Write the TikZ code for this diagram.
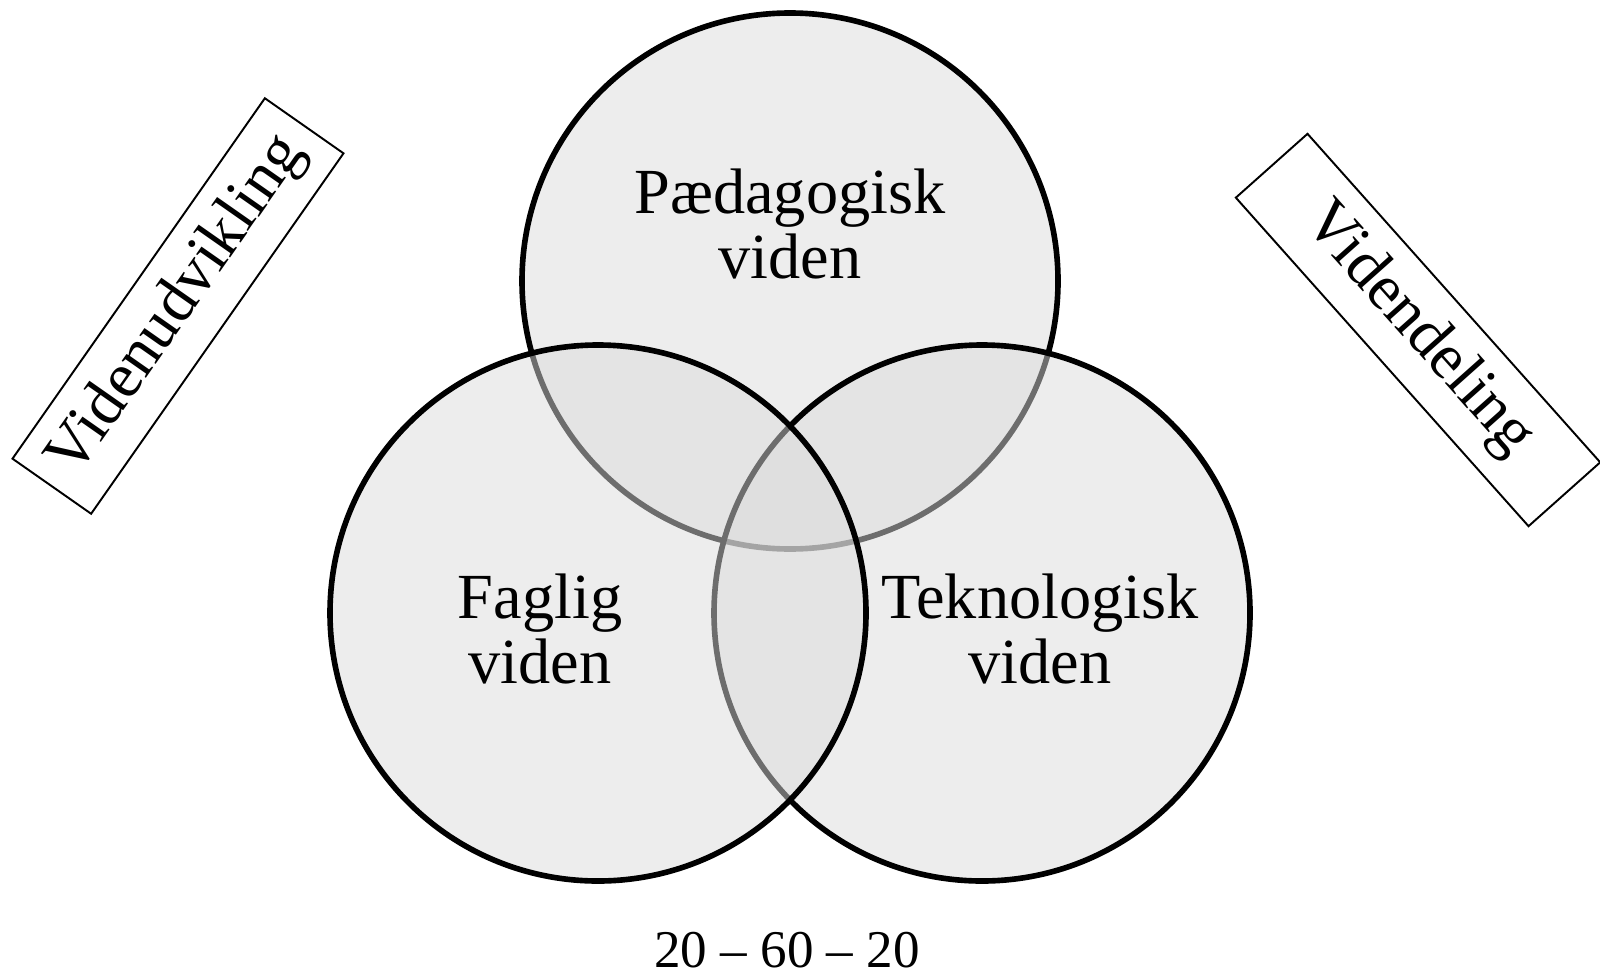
\documentclass[tikz,border=0pt]{standalone}
\usepackage{fontspec}
\setmainfont{Liberation Serif}
\tikzset{
  vidensirkel/.style={draw=black, line width=1.6pt, fill=black!14, fill opacity=0.5},
  etiket/.style={align=center, inner sep=0pt, font=\fontsize{18.3}{18.5}\selectfont},
  rammeboks/.style={draw=black, line width=0.55pt, minimum width=4.4cm, minimum height=0.96cm,
    inner sep=0pt, font=\fontsize{18.3}{18.5}\selectfont}
}
\begin{document}
\begin{tikzpicture}
    \useasboundingbox (0,0) rectangle (16,9.72);
    % the three circles, top first and left last
    \draw[vidensirkel] (7.90,6.91) circle (2.68);
    \draw[vidensirkel] (9.82,3.59) circle (2.68);
    \draw[vidensirkel] (5.98,3.59) circle (2.68);
    \node[etiket] (ped) at (7.90,7.48) {Pædagogisk\\viden};
    \node[etiket] (fag) at (5.40,3.43) {Faglig\\viden};
    \node[etiket] (tek) at (10.40,3.43) {Teknologisk\\viden};
    \node[anchor=base, inner sep=0pt, font=\fontsize{15.1}{16}\selectfont] (fordeling) at (7.87,0.05) {20 -- 60 -- 20};
    % boxes on the sides
    \node[rammeboks, rotate=55] (udvikling) at (1.78,6.66) {Videnudvikling};
    \node[rammeboks, rotate=-48.3] (deling) at (14.18,6.42) {Videndeling};
\end{tikzpicture}
\end{document}
